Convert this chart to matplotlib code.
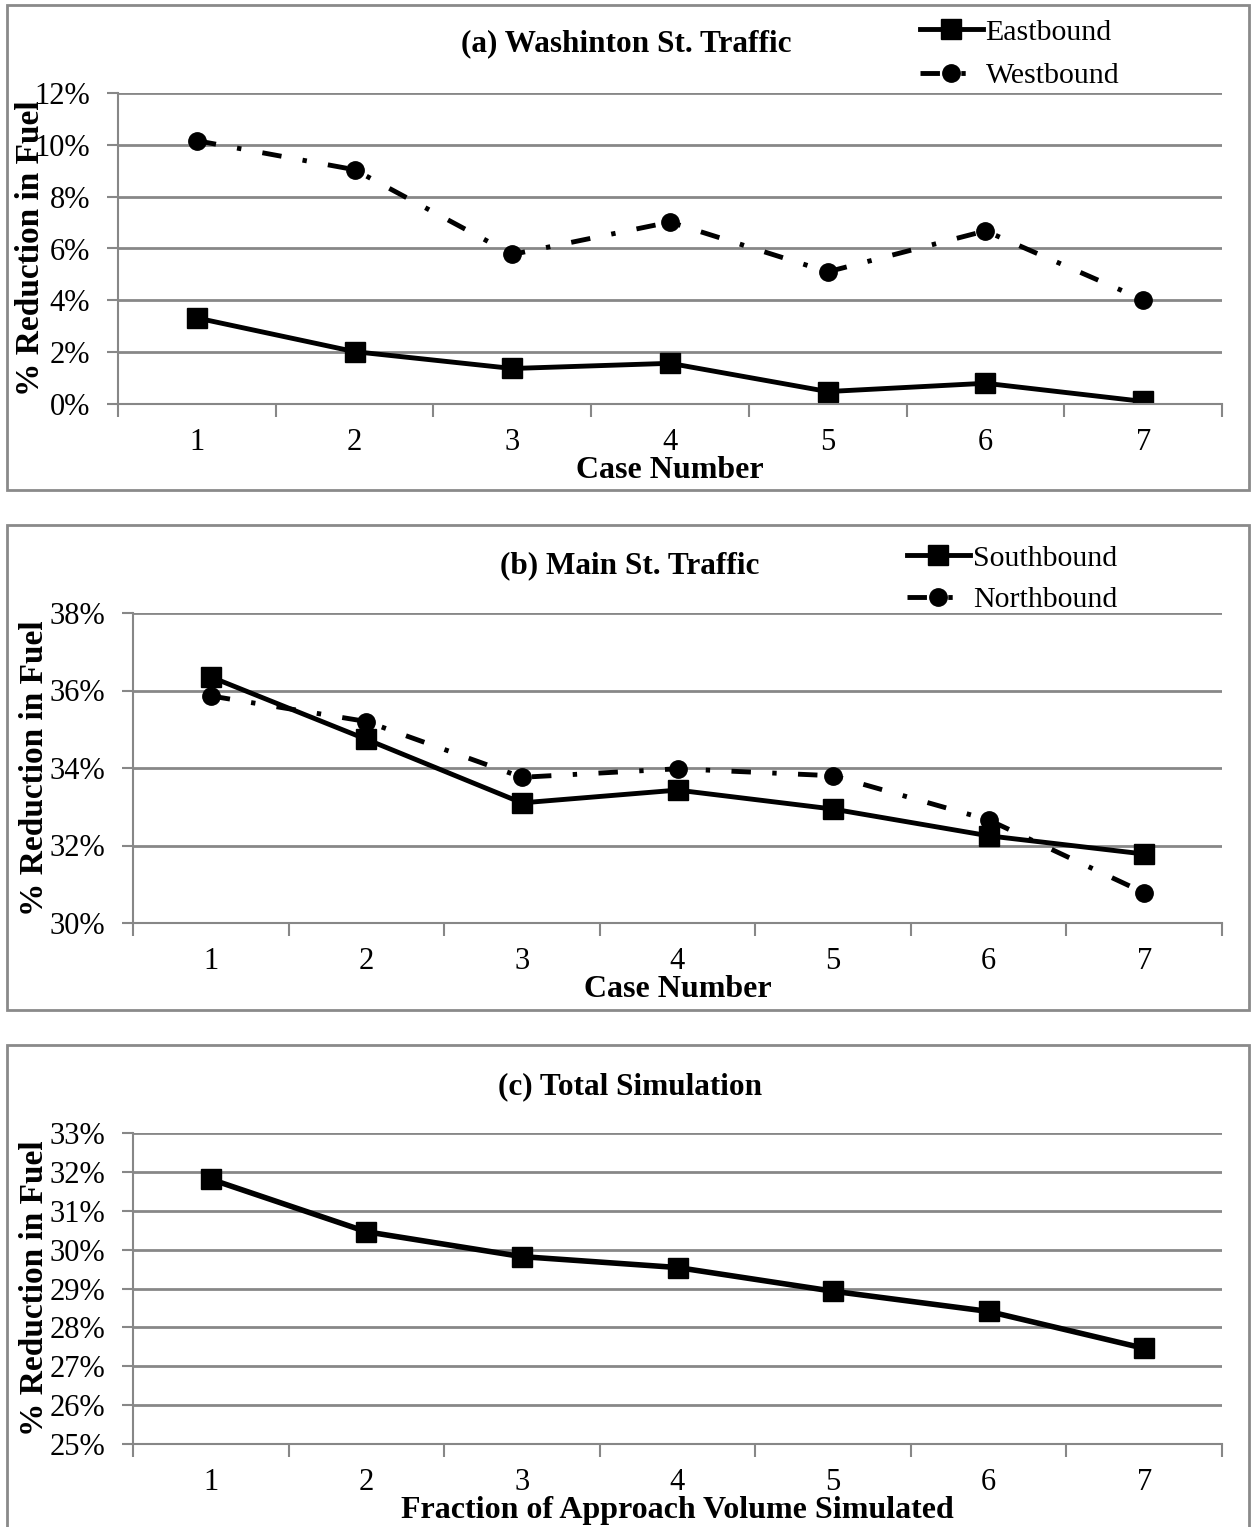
import numpy as np
import matplotlib.pyplot as plt
from matplotlib.patches import Rectangle
from matplotlib.ticker import FuncFormatter, FixedLocator

plt.rcParams['font.family'] = ['Liberation Serif', 'DejaVu Serif']

cases = [1, 2, 3, 4, 5, 6, 7]

# (a) Washington St.
eastbound = [3.32, 2.02, 1.37, 1.57, 0.48, 0.80, 0.10]
westbound = [10.16, 9.04, 5.77, 7.02, 5.10, 6.68, 4.02]

# (b) Main St.
southbound = [36.35, 34.74, 33.10, 33.43, 32.94, 32.25, 31.78]
northbound = [35.86, 35.20, 33.76, 33.98, 33.80, 32.66, 30.78]

# (c) total
total = [31.81, 30.46, 29.82, 29.54, 28.93, 28.41, 27.46]

W, H = 1254, 1527
fig = plt.figure(figsize=(W / 100, H / 100), dpi=100)

grid_c = '#878787'
dashdot = (0, (4.0, 4.4, 0.9, 4.4))


def px_axes(left, top, right, bottom):
    return fig.add_axes([left / W, 1 - bottom / H, (right - left) / W, (bottom - top) / H])


def style(ax, ymin, ymax, step, xlabel, ylab_x):
    ax.set_xlim(0.5, 7.5)
    ax.set_ylim(ymin, ymax)
    ax.set_yticks(np.arange(ymin, ymax + step / 2, step))
    ax.yaxis.set_major_formatter(FuncFormatter(lambda v, p: f'{v:.0f}%'))
    ax.xaxis.set_major_locator(FixedLocator(np.arange(0.5, 8, 1)))
    ax.xaxis.set_minor_locator(FixedLocator(cases))
    ax.xaxis.set_major_formatter(FuncFormatter(lambda v, p: ''))
    ax.xaxis.set_minor_formatter(FuncFormatter(lambda v, p: f'{v:.0f}'))
    ax.tick_params(axis='x', which='major', length=9, width=1.5, color=grid_c)
    ax.tick_params(axis='x', which='minor', length=0, pad=17, labelsize=22)
    ax.tick_params(axis='y', length=8, width=1.5, color=grid_c, labelsize=22, pad=12)
    ax.grid(axis='y', color=grid_c, lw=2)
    ax.set_axisbelow(True)
    for s in ['top', 'right']:
        ax.spines[s].set_visible(False)
    for s in ['left', 'bottom']:
        ax.spines[s].set_color(grid_c)
        ax.spines[s].set_linewidth(1.5)
    ax.set_ylabel('% Reduction in Fuel', fontsize=24, fontweight='bold', va='center')
    ax.yaxis.set_label_coords(ylab_x, 0.5)
    ax.set_xlabel(xlabel, fontsize=23, fontweight='bold', va='center')
    ax.xaxis.set_label_coords(0.5, -0.214)


# panel frames
for top, bottom in [(5, 490), (525, 1010), (1045, 1540)]:
    fig.patches.append(Rectangle((7 / W, 1 - bottom / H), (1249 - 7) / W, (bottom - top) / H,
                                 transform=fig.transFigure, fill=False,
                                 edgecolor='#8a8a8a', lw=2))

# (a)
ax1 = px_axes(118, 93, 1222, 404)
ax1.plot(cases, eastbound, color='black', lw=3.5, marker='s', ms=15, label='Eastbound')
ax1.plot(cases, westbound, color='black', lw=3.5, ls=dashdot, marker='o', ms=12.5, label='Westbound')
style(ax1, 0, 12, 2, 'Case Number', (30 - 118) / 1104)
fig.text(626 / W, 1 - 44 / H, '(a) Washinton St. Traffic', ha='center', va='center',
         fontsize=22.5, fontweight='bold')
ax1.legend(loc='upper left', bbox_to_anchor=(905 / W, 1 - 4 / H), bbox_transform=fig.transFigure,
           frameon=False, fontsize=21.5, handlelength=2.1, handletextpad=0.1,
           labelspacing=0.55, borderpad=0)

# (b)
ax2 = px_axes(133, 613, 1222, 923)
ax2.plot(cases, southbound, color='black', lw=3.5, marker='s', ms=15, label='Southbound')
ax2.plot(cases, northbound, color='black', lw=3.5, ls=dashdot, marker='o', ms=12.5, label='Northbound')
style(ax2, 30, 38, 2, 'Case Number', (35 - 133) / 1089)
fig.text(630 / W, 1 - 566 / H, '(b) Main St. Traffic', ha='center', va='center',
         fontsize=22.5, fontweight='bold')
ax2.legend(loc='upper left', bbox_to_anchor=(892 / W, 1 - 530 / H), bbox_transform=fig.transFigure,
           frameon=False, fontsize=21.5, handlelength=2.1, handletextpad=0.1,
           labelspacing=0.48, borderpad=0)

# (c)
ax3 = px_axes(133, 1133, 1222, 1444)
ax3.plot(cases, total, color='black', lw=4, marker='s', ms=15)
style(ax3, 25, 33, 1, 'Fraction of Approach Volume Simulated', (35 - 133) / 1089)
fig.text(630 / W, 1 - 1087 / H, '(c) Total Simulation', ha='center', va='center',
         fontsize=22.5, fontweight='bold')

fig.savefig('out.png', dpi=100)
